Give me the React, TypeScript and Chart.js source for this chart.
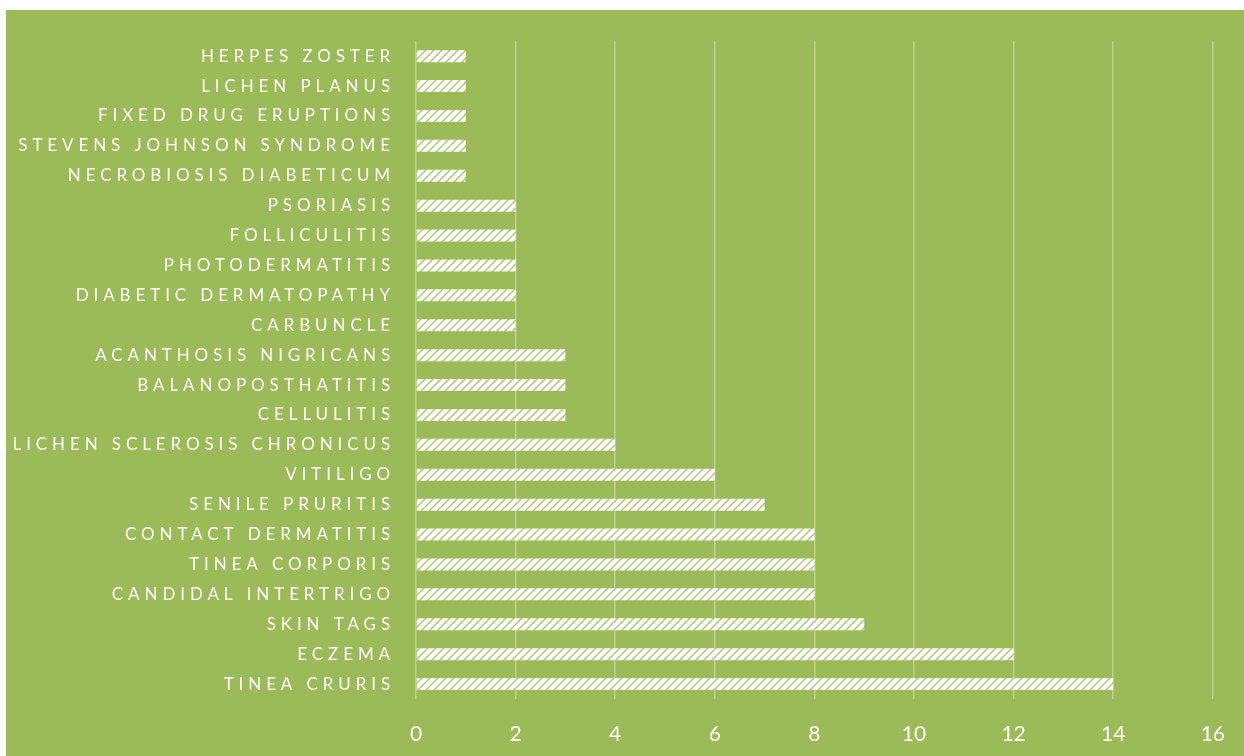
import React, { useEffect, useRef } from "react";
import { Chart, registerables, CategoryScale, LinearScale } from "chart.js";

Chart.register(...registerables);

class SpacedCategoryScale extends CategoryScale {
  static id = "spacedCategory";
  static defaults = CategoryScale.defaults;
  drawLabels(area: any) {
    const ctx: any = this.ctx;
    ctx.save();
    ctx.letterSpacing = "4.9px";
    super.drawLabels(area);
    ctx.restore();
  }
}

class ShiftedLinearScale extends LinearScale {
  static id = "shiftedLinear";
  static defaults = LinearScale.defaults;
  drawLabels(area: any) {
    const ctx: any = this.ctx;
    ctx.save();
    ctx.translate(0, 4);
    super.drawLabels(area);
    ctx.restore();
  }
}
Chart.register(SpacedCategoryScale as any, ShiftedLinearScale as any);

const categories = [
  "HERPES ZOSTER",
  "LICHEN PLANUS",
  "FIXED DRUG ERUPTIONS",
  "STEVENS JOHNSON SYNDROME",
  "NECROBIOSIS DIABETICUM",
  "PSORIASIS",
  "FOLLICULITIS",
  "PHOTODERMATITIS",
  "DIABETIC DERMATOPATHY",
  "CARBUNCLE",
  "ACANTHOSIS NIGRICANS",
  "BALANOPOSTHATITIS",
  "CELLULITIS",
  "LICHEN SCLEROSIS CHRONICUS",
  "VITILIGO",
  "SENILE PRURITIS",
  "CONTACT DERMATITIS",
  "TINEA CORPORIS",
  "CANDIDAL INTERTRIGO",
  "SKIN TAGS",
  "ECZEMA",
  "TINEA CRURIS",
];

const cases = [1, 1, 1, 1, 1, 2, 2, 2, 2, 2, 3, 3, 3, 4, 6, 7, 8, 8, 8, 9, 12, 14];

const xMin = 0;
const xMax = 16;
const xStep = 2;

function makePattern(): CanvasPattern | string {
  const size = 8;
  const c = document.createElement("canvas");
  c.width = size;
  c.height = size;
  const g = c.getContext("2d");
  if (!g) return "#ffffff";
  g.fillStyle = "#adc776";
  g.fillRect(0, 0, size, size);
  g.strokeStyle = "#ffffff";
  g.lineWidth = 4.2;
  g.lineCap = "square";
  const lines = [
    [-size, size, size, -size],
    [0, size, size, 0],
    [0, 2 * size, 2 * size, 0],
  ];
  for (const [x1, y1, x2, y2] of lines) {
    g.beginPath();
    g.moveTo(x1, y1);
    g.lineTo(x2, y2);
    g.stroke();
  }
  const p = g.createPattern(c, "repeat");
  return p || "#ffffff";
}

export default function App() {
  const ref = useRef<HTMLCanvasElement>(null);

  useEffect(() => {
    if (!ref.current) return;
    const pattern = makePattern();
    const chart = new Chart(ref.current, {
      type: "bar",
      data: {
        labels: categories,
        datasets: [
          {
            data: cases,
            backgroundColor: pattern as any,
            borderWidth: 0,
            barPercentage: 0.4,
            categoryPercentage: 1,
          },
        ],
      },
      options: {
        indexAxis: "y",
        animation: false,
        responsive: false,
        devicePixelRatio: 1,
        layout: { padding: { top: 30, right: 31, left: 0, bottom: 0 } },
        plugins: {
          legend: { display: false },
          tooltip: { enabled: false },
        },
        scales: {
          x: {
            type: "shiftedLinear" as any,
            min: xMin,
            max: xMax,
            ticks: {
              stepSize: xStep,
              color: "#ffffff",
              font: { family: "Lato", size: 21 },
              padding: 19,
            },
            grid: {
              color: "rgba(255,255,255,0.35)",
              lineWidth: 1.5,
              drawTicks: false,
            },
            border: { display: false },
            afterFit: (s: any) => {
              s.height = 57;
            },
          },
          y: {
            type: "spacedCategory" as any,
            ticks: {
              color: "#ffffff",
              font: { family: "Lato", size: 17 },
              padding: 21,
              autoSkip: false,
            },
            grid: { display: false, drawTicks: false },
            border: { display: false },
            afterFit: (s: any) => {
              s.width = 410;
            },
          },
        },
      },
    });
    return () => chart.destroy();
  }, []);

  return (
    <div
      style={{
        position: "absolute",
        left: 6,
        top: 10,
        width: 1238,
        height: 746,
        background: "#9bbb59",
      }}
    >
      <canvas ref={ref} width={1238} height={746} style={{ display: "block" }} />
    </div>
  );
}
